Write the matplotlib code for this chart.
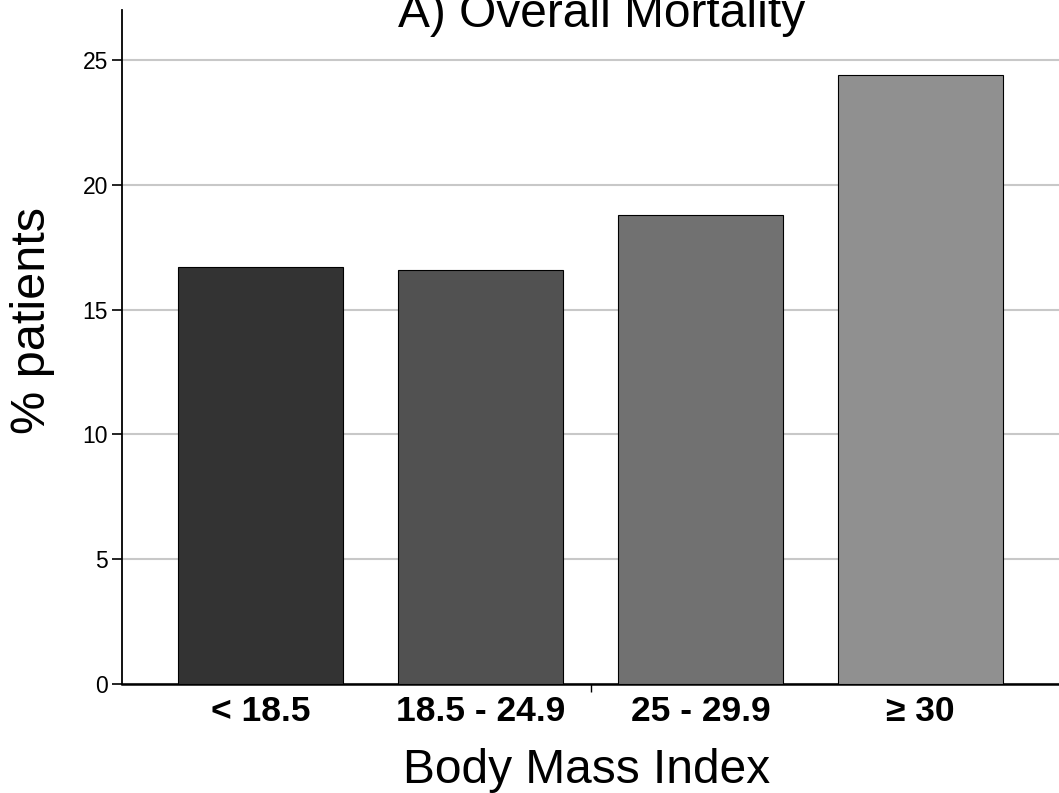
import matplotlib
matplotlib.use("Agg")
import matplotlib.pyplot as plt
from matplotlib.ticker import FixedLocator

categories = ["< 18.5", "18.5 - 24.9", "25 - 29.9", "\u2265 30"]
values = [16.7, 16.6, 18.8, 24.4]
bar_colors = ["#333333", "#515151", "#717171", "#909090"]
y_ticks = [0, 5, 10, 15, 20, 25]

plt.rcParams["font.family"] = ["Liberation Sans", "DejaVu Sans"]

W, H = 1059, 793
fig = plt.figure(figsize=(W / 100, H / 100), dpi=100)
ax = fig.add_axes([122 / W, (H - 684) / H, (1059 - 122) / W, (684 - 10) / H])

x = list(range(len(categories)))
ax.bar(x, values, width=0.75, color=bar_colors, edgecolor="black", linewidth=0.8, zorder=3)

ax.set_xlim(-0.63, 3.63)
ax.set_ylim(0, 27.0)
ax.set_yticks(y_ticks)
ax.set_yticklabels([str(t) for t in y_ticks], fontsize=16.5)
ax.yaxis.grid(True, color="#c8c8c8", linewidth=1.5, zorder=0)
ax.set_axisbelow(True)

ax.set_xticks(x)
ax.set_xticklabels(categories, fontsize=25.5, fontweight="bold")
ax.tick_params(axis="x", which="major", length=0, pad=8)
ax.xaxis.set_minor_locator(FixedLocator([1.5]))
ax.tick_params(axis="x", which="minor", length=6, width=1.0, direction="out")
ax.tick_params(axis="y", length=7, width=1.2, pad=3)

for s in ["top", "right"]:
    ax.spines[s].set_visible(False)
ax.spines["left"].set_linewidth(1.3)
ax.spines["bottom"].set_linewidth(1.8)

fig.text(602 / W, 1 - 27 / H, "A) Overall Mortality", fontsize=34.5, ha="center", va="baseline")
fig.text(587 / W, 1 - 783 / H, "Body Mass Index", fontsize=34.5, ha="center", va="baseline")
fig.text(33 / W, 1 - 320 / H, "% patients", fontsize=35, rotation=90, ha="center", va="center")

fig.savefig("out.png", dpi=100)
